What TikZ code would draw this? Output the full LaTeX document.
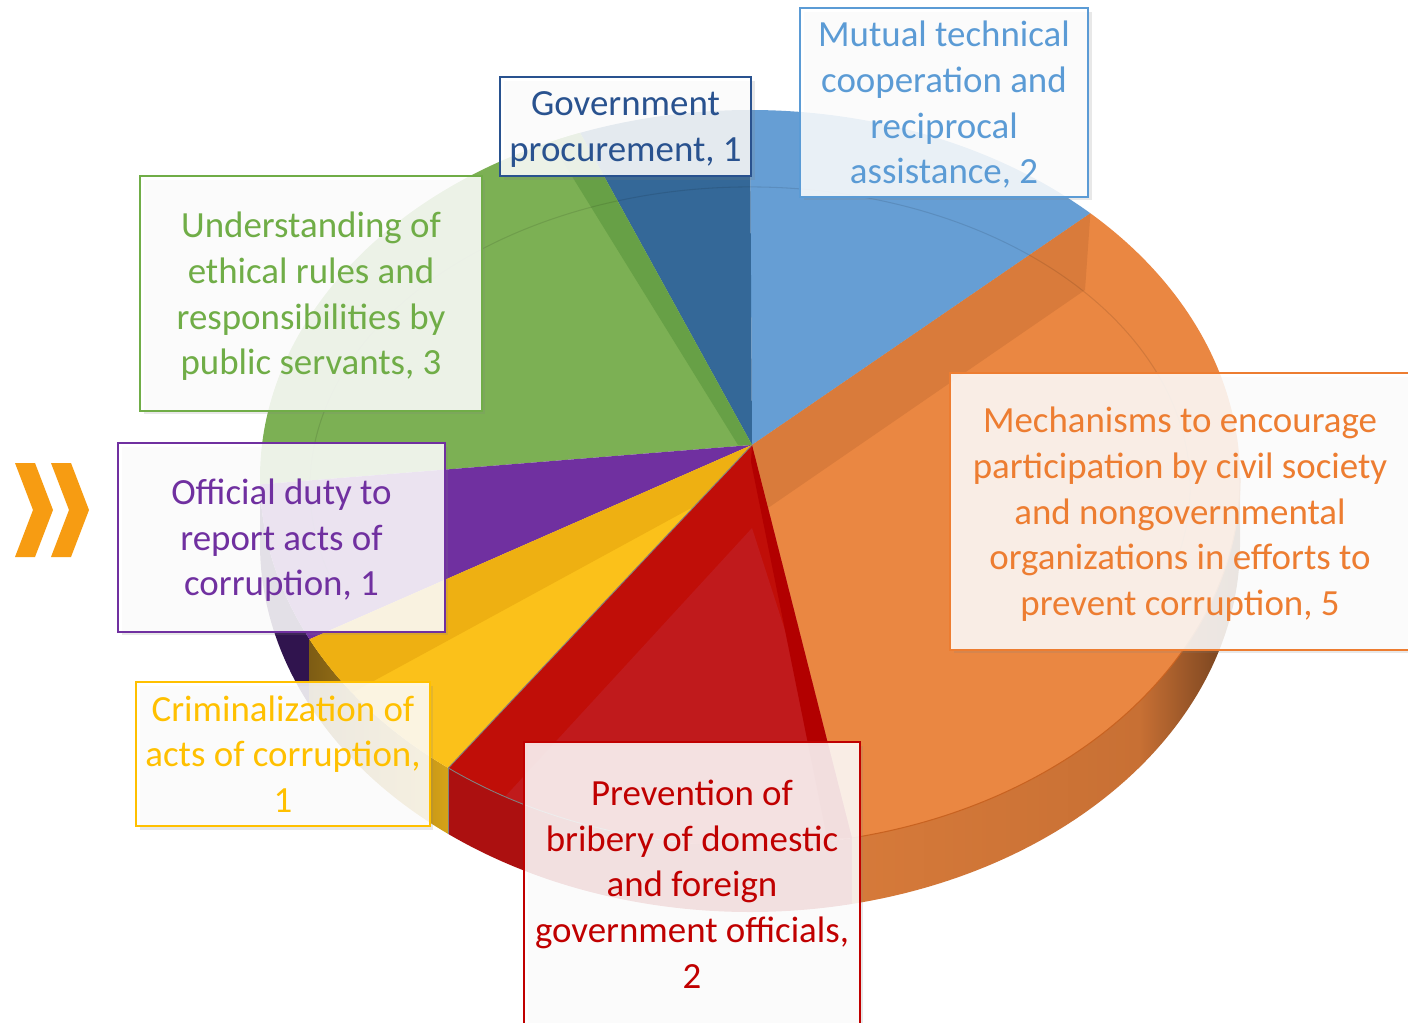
\documentclass[tikz,border=0pt]{standalone}
\usepackage{fontspec}
\setmainfont{Carlito}
\usetikzlibrary{calc,shadows}

\definecolor{sliceDarkBlue}{RGB}{52,104,152}
\definecolor{sliceBlue}{RGB}{102,158,212}
\definecolor{sliceOrange}{RGB}{234,135,66}
\definecolor{bandOrange}{RGB}{217,123,59}
\definecolor{sliceRed}{RGB}{192,14,8}
\definecolor{midRed}{RGB}{192,26,28}
\definecolor{bandRed}{RGB}{178,0,0}
\definecolor{sliceYellow}{RGB}{251,193,26}
\definecolor{bandYellow}{RGB}{238,176,18}
\definecolor{slicePurple}{RGB}{112,48,160}
\definecolor{sliceGreen}{RGB}{124,176,84}
\definecolor{bandGreen}{RGB}{103,160,70}
\definecolor{sidePurple}{RGB}{48,20,78}
\definecolor{sideRed}{RGB}{172,16,16}
\definecolor{sideYellowA}{RGB}{125,92,20}
\definecolor{sideYellowB}{RGB}{214,163,24}
\definecolor{sideOrangeA}{RGB}{214,122,58}
\definecolor{sideOrangeB}{RGB}{200,112,52}
\definecolor{sideOrangeC}{RGB}{105,60,28}
\definecolor{rimOrange}{RGB}{200,98,32}
\definecolor{chevron}{RGB}{247,156,18}
\definecolor{txtBlue}{RGB}{91,155,213}
\definecolor{txtDarkBlue}{RGB}{41,82,143}
\definecolor{txtGreen}{RGB}{112,173,71}
\definecolor{txtPurple}{RGB}{112,48,160}
\definecolor{txtYellow}{RGB}{255,192,0}
\definecolor{txtRed}{RGB}{192,0,0}
\definecolor{txtOrange}{RGB}{237,125,49}

\pgfdeclarehorizontalshading{orangeside}{100bp}{color(0bp)=(sideOrangeA); color(25bp)=(sideOrangeA); color(62bp)=(sideOrangeB); color(75bp)=(sideOrangeC); color(100bp)=(sideOrangeC)}

\newcommand{\lastline}[1]{\raisebox{0pt}[\height][0pt]{#1}}

\begin{document}
\begin{tikzpicture}[x=0.02cm, y=0.02cm,
    rim/.style={x radius=490, y radius=368},
    lbl/.style={draw=#1, text=#1, fill=white, fill opacity=0.86, text opacity=1,
      line width=1.1pt, align=center, inner sep=0pt, font=\fontsize{21}{26}\selectfont,
      drop shadow={opacity=0.18, shadow xshift=2pt, shadow yshift=-2pt}}]
			\fill[white] (0,0) rectangle (1408,1022);
			\useasboundingbox (0,0) rectangle (1408,1022);
			\coordinate (C) at (752,577);
			\coordinate (E) at (750,544);
			\coordinate (R) at (750,535);

			% sides
			\fill[sidePurple] ($(E)+(181:490 and 368)$) arc[rim, start angle=181, end angle=206] -- ++(0,-66) arc[rim, start angle=206, end angle=181] -- cycle;
			\shade[left color=sideYellowA, right color=sideYellowB] ($(E)+(206:490 and 368)$) arc[rim, start angle=206, end angle=232] -- ++(0,-66) arc[rim, start angle=232, end angle=206] -- cycle;
			\fill[sideRed] ($(E)+(232:490 and 368)$) arc[rim, start angle=232, end angle=282] -- ++(0,-66) arc[rim, start angle=282, end angle=232] -- cycle;
			\shade[shading=orangeside] ($(E)+(282:490 and 368)$) arc[rim, start angle=282, end angle=360] -- ++(0,-66) arc[rim, start angle=360, end angle=282] -- cycle;

			% top
			\fill[sliceOrange] (C) -- ($(E)+(-78:490 and 368)$) arc[rim, start angle=-78, end angle=46] -- cycle;
			\fill[sliceBlue] (C) -- ($(E)+(46:490 and 368)$) arc[rim, start angle=46, end angle=90] -- cycle;
			\fill[sliceDarkBlue] (C) -- ($(E)+(90:490 and 368)$) arc[rim, start angle=90, end angle=110.3] -- cycle;
			\fill[sliceGreen] (C) -- ($(E)+(110.3:490 and 368)$) arc[rim, start angle=110.3, end angle=181] -- cycle;
			\fill[slicePurple] (C) -- ($(E)+(181:490 and 368)$) arc[rim, start angle=181, end angle=206] -- cycle;
			\fill[sliceYellow] (C) -- ($(E)+(206:490 and 368)$) arc[rim, start angle=206, end angle=232] -- cycle;
			\fill[sliceRed] (C) -- ($(E)+(232:490 and 368)$) arc[rim, start angle=232, end angle=282] -- cycle;

			\fill[bandOrange] (C) -- ($(E)+(46:490 and 368)$) -- (1085,732) -- (768,514) -- cycle;
			\fill[bandGreen] (C) -- ($(E)+(110.3:490 and 368)$) arc[rim, start angle=110.3, end angle=114] -- (738,577) -- cycle;
			\fill[midRed] (752,494) -- ($(E)+(240:490 and 368)$) arc[rim, start angle=240, end angle=282] -- cycle;
			\fill[bandRed] (C) -- ($(E)+(282:490 and 368)$) -- (827,184) -- (751,560) -- cycle;
			\fill[bandYellow] (C) -- ($(E)+(206:490 and 368)$) arc[rim, start angle=206, end angle=215.7] -- (693,515) -- cycle;

			\draw[black, opacity=0.1, line width=0.6pt] ($(R)+(-15:440 and 300)$) arc[start angle=-15, end angle=200, x radius=440, y radius=300];
			\draw[rimOrange, line width=0.6pt] ($(E)+(282:490 and 368)$) arc[rim, start angle=282, end angle=360];
			\draw[gray, line width=0.5pt] (C) -- ($(E)+(232:490 and 368)$) arc[rim, start angle=232, end angle=262];
			\draw[gray, line width=0.5pt] ($(E)+(232:490 and 368)$) -- ++(0,-66);

			% labels
			\node[lbl=txtBlue, minimum width=5.76cm, minimum height=3.78cm] (cooperation) at (944,919.5) {Mutual technical\\cooperation and\\reciprocal\\\lastline{assistance, 2}};
			\node[lbl=txtDarkBlue, minimum width=5.02cm, minimum height=1.98cm] (procurement) at (625.5,895.5) {Government\\\lastline{procurement, 1}};
			\node[lbl=txtGreen, minimum width=6.84cm, minimum height=4.70cm] (ethics) at (311,728.5) {Understanding of\\ethical rules and\\responsibilities by\\\lastline{public servants, 3}};
			\node[lbl=txtPurple, minimum width=6.54cm, minimum height=3.78cm] (reporting) at (281.5,484.5) {Official duty to\\report acts of\\\lastline{corruption, 1}};
			\node[lbl=txtYellow, minimum width=5.88cm, minimum height=2.88cm] (criminalization) at (283,268) {Criminalization of\\acts of corruption,\\1};
			\node[lbl=txtRed, minimum width=6.72cm, minimum height=5.68cm] (bribery) at (692,138) {Prevention of\\bribery of domestic\\and foreign\\government officials,\\2};
			\node[lbl=txtOrange, minimum width=9.2cm, minimum height=5.54cm] (participation) at (1180,510.5) {Mechanisms to encourage\\participation by civil society\\and nongovernmental\\organizations in efforts to\\\lastline{prevent corruption, 5}};

			\fill[chevron] (15,559) -- (35,559) -- (53,512) -- (35,465) -- (15,465) -- (33,512) -- cycle;
			\fill[chevron] (51,559) -- (71,559) -- (89,512) -- (71,465) -- (51,465) -- (69,512) -- cycle;
		\end{tikzpicture}
\end{document}
